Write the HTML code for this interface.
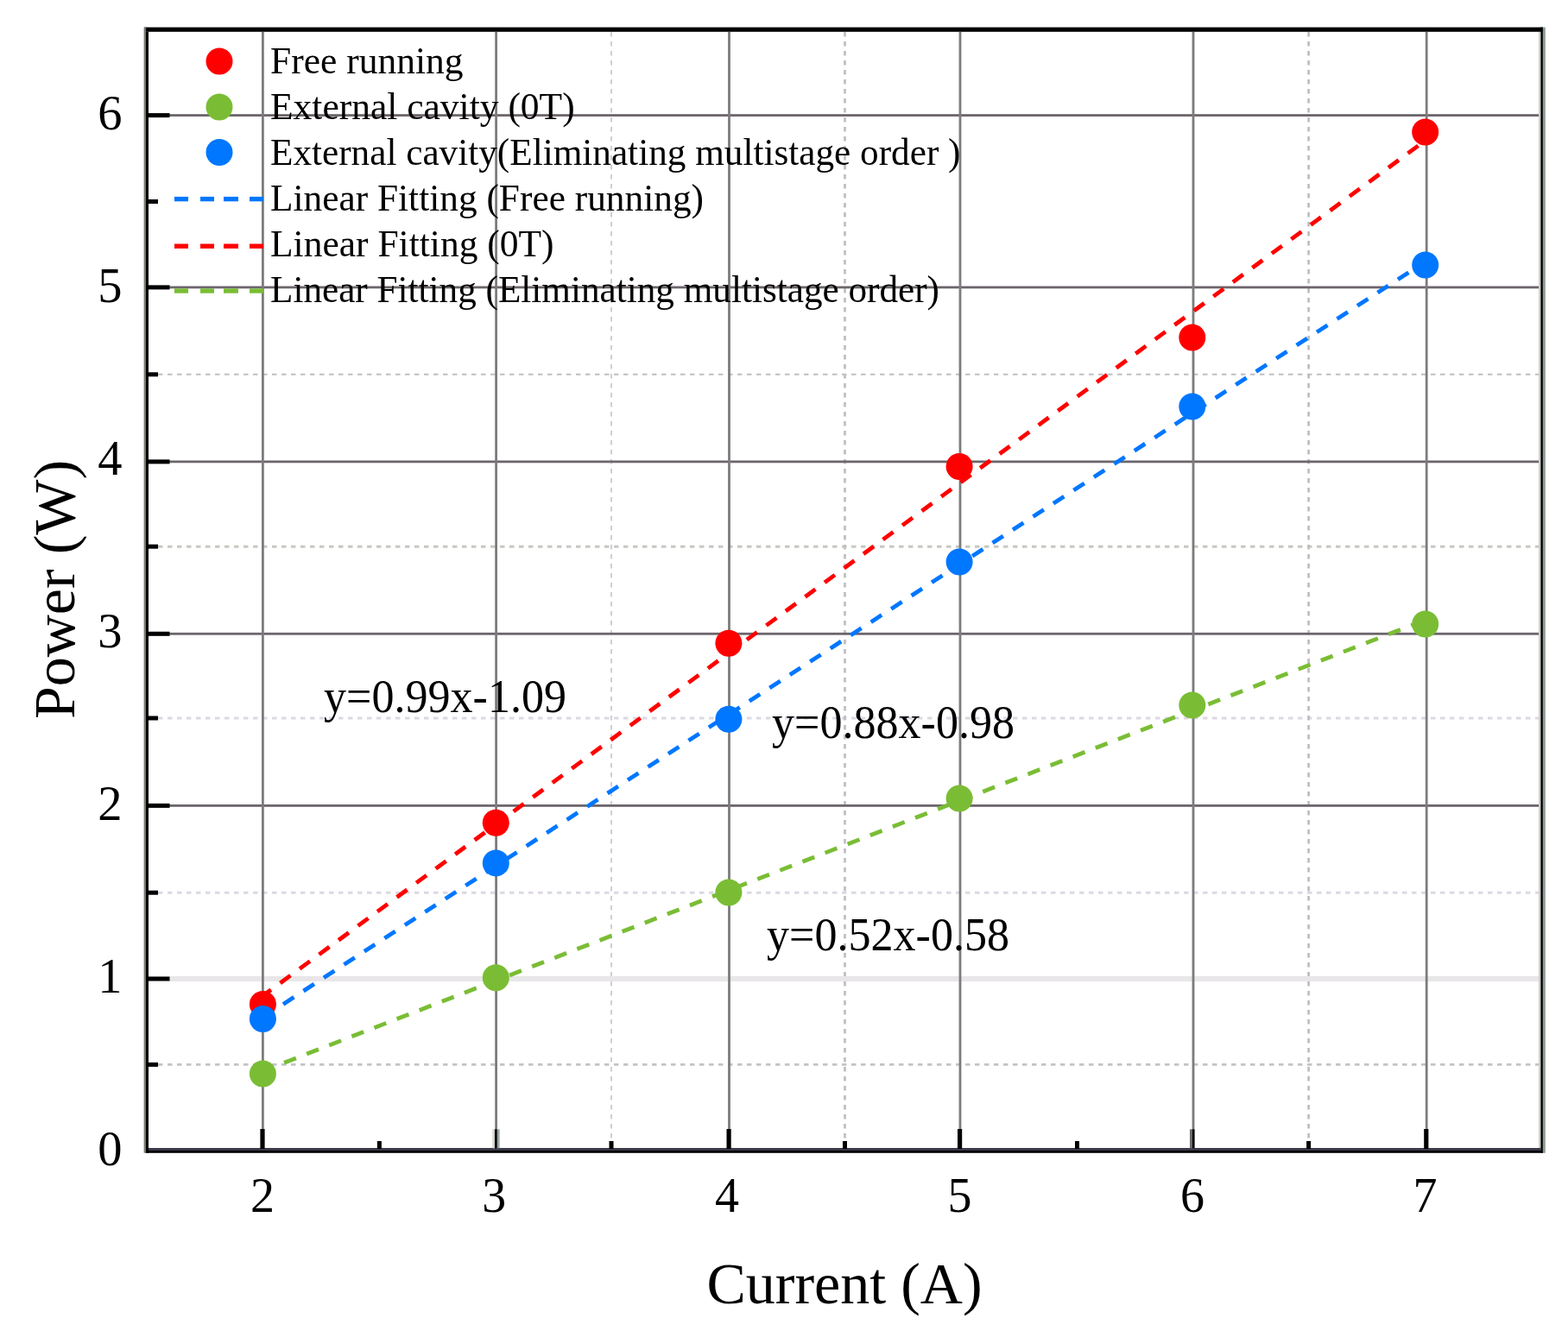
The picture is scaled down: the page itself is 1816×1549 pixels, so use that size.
<!DOCTYPE html>
<html><head><meta charset="utf-8"><title>Power vs Current</title>
<style>html,body{margin:0;padding:0;background:#fff;}svg{display:block;}</style></head>
<body><svg width="1816" height="1549" viewBox="0 0 1816 1549">
<rect width="1816" height="1549" fill="#fff"/>
<line x1="172" y1="1233.4" x2="1784" y2="1233.4" stroke="#c4c4c4" stroke-width="2.8" stroke-dasharray="5.5 5.5"/>
<line x1="172" y1="1034.2" x2="1784" y2="1034.2" stroke="#ddd8e2" stroke-width="3.0" stroke-dasharray="5.5 5.5"/>
<line x1="172" y1="832.0" x2="1784" y2="832.0" stroke="#ddd8e2" stroke-width="3.0" stroke-dasharray="5.5 5.5"/>
<line x1="172" y1="633.2" x2="1784" y2="633.2" stroke="#c8c8c2" stroke-width="2.9" stroke-dasharray="5.5 5.5"/>
<line x1="172" y1="433.8" x2="1784" y2="433.8" stroke="#bfbfbf" stroke-width="2.1" stroke-dasharray="5.5 5.5"/>
<line x1="708.0" y1="37" x2="708.0" y2="1330" stroke="#d0d0d0" stroke-width="2.1" stroke-dasharray="5.6 5.4"/>
<line x1="978.5" y1="37" x2="978.5" y2="1330" stroke="#c0c0c0" stroke-width="2.8" stroke-dasharray="5.6 5.4"/>
<line x1="1515.6" y1="37" x2="1515.6" y2="1330" stroke="#bebebe" stroke-width="2.7" stroke-dasharray="5.6 5.4"/>
<rect x="172" y="932.0" width="1612" height="2.8" fill="#6c666c"/>
<rect x="172" y="732.9" width="1612" height="2.8" fill="#6c666c"/>
<rect x="172" y="533.5" width="1612" height="2.8" fill="#6c666c"/>
<rect x="172" y="331.5" width="1612" height="2.8" fill="#6c666c"/>
<rect x="172" y="132.2" width="1612" height="2.8" fill="#6c666c"/>
<rect x="172" y="1131.0" width="1612" height="6" fill="#e8e6e8"/>
<rect x="303.0" y="37" width="2.8" height="1293" fill="#7c7c7c"/>
<rect x="573.2" y="37" width="2.8" height="1293" fill="#7c7c7c"/>
<rect x="843.1" y="37" width="2.8" height="1293" fill="#7c7c7c"/>
<rect x="1110.6" y="37" width="2.8" height="1293" fill="#7c7c7c"/>
<rect x="1380.6" y="37" width="2.8" height="1293" fill="#7c7c7c"/>
<rect x="1650.8" y="37" width="2.8" height="1293" fill="#7c7c7c"/>
<line x1="304.38" y1="1153.78" x2="1652.18" y2="161.75" stroke="#ff0000" stroke-width="4.8" stroke-dasharray="14.8 13.16" stroke-dashoffset="2.96"/>
<line x1="304.38" y1="1178.77" x2="1652.18" y2="302.13" stroke="#0077ff" stroke-width="4.8" stroke-dasharray="14.8 13.20" stroke-dashoffset="27.8"/>
<line x1="304.38" y1="1240.83" x2="1652.18" y2="717.77" stroke="#7abd35" stroke-width="4.8" stroke-dasharray="14.8 13.20" stroke-dashoffset="1.5"/>
<circle cx="304.4" cy="1163.5" r="15.5" fill="#ff0000"/>
<circle cx="574.3" cy="953.3" r="15.5" fill="#ff0000"/>
<circle cx="843.9" cy="745.3" r="15.5" fill="#ff0000"/>
<circle cx="1111.1" cy="540.5" r="15.5" fill="#ff0000"/>
<circle cx="1380.8" cy="391.0" r="15.5" fill="#ff0000"/>
<circle cx="1650.7" cy="153.0" r="15.5" fill="#ff0000"/>
<circle cx="304.4" cy="1244.0" r="15.5" fill="#7abd35"/>
<circle cx="574.3" cy="1132.8" r="15.5" fill="#7abd35"/>
<circle cx="843.9" cy="1034.0" r="15.5" fill="#7abd35"/>
<circle cx="1111.1" cy="925.0" r="15.5" fill="#7abd35"/>
<circle cx="1380.8" cy="817.0" r="15.5" fill="#7abd35"/>
<circle cx="1650.7" cy="723.0" r="15.5" fill="#7abd35"/>
<circle cx="304.4" cy="1180.5" r="15.5" fill="#0077ff"/>
<circle cx="574.3" cy="999.9" r="15.5" fill="#0077ff"/>
<circle cx="843.9" cy="833.3" r="15.5" fill="#0077ff"/>
<circle cx="1111.1" cy="651.0" r="15.5" fill="#0077ff"/>
<circle cx="1380.8" cy="471.0" r="15.5" fill="#0077ff"/>
<circle cx="1650.7" cy="307.0" r="15.5" fill="#0077ff"/>
<rect x="1782" y="37" width="2.4" height="1293" fill="#d2d0cc"/>
<rect x="167" y="31.6" width="1620" height="5.2" fill="#000"/>
<rect x="172" y="1330" width="1612.4" height="3" fill="#3a3a48"/>
<rect x="169" y="1333" width="1618" height="2.8" fill="#000"/>
<rect x="1784.4" y="31.6" width="2.5" height="1304.2" fill="#000"/>
<rect x="1786.9" y="31.6" width="2.9" height="1304.2" fill="#8c9a92"/>
<rect x="166.6" y="31.6" width="2.5" height="1304.2" fill="#7a7a72"/>
<rect x="169" y="36.8" width="3" height="1299" fill="#000"/>
<rect x="172" y="1131.5" width="24.5" height="5" fill="#000"/>
<rect x="172" y="930.9" width="24.5" height="5" fill="#000"/>
<rect x="172" y="731.8" width="24.5" height="5" fill="#000"/>
<rect x="172" y="532.4" width="24.5" height="5" fill="#000"/>
<rect x="172" y="330.4" width="24.5" height="5" fill="#000"/>
<rect x="172" y="131.1" width="24.5" height="5" fill="#000"/>
<rect x="172" y="1230.9" width="11" height="5" fill="#000"/>
<rect x="172" y="1031.7" width="11" height="5" fill="#000"/>
<rect x="172" y="829.5" width="11" height="5" fill="#000"/>
<rect x="172" y="630.7" width="11" height="5" fill="#000"/>
<rect x="172" y="431.3" width="11" height="5" fill="#000"/>
<rect x="172" y="231.0" width="11" height="5" fill="#000"/>
<rect x="301.4" y="1308" width="5.2" height="23" fill="#000"/>
<rect x="841.5" y="1308" width="5.2" height="23" fill="#000"/>
<rect x="1109.0" y="1308" width="5.2" height="23" fill="#000"/>
<rect x="1649.2" y="1308" width="5.2" height="23" fill="#000"/>
<rect x="570.3" y="1308.3" width="2.7" height="22" fill="#d4d4d0"/>
<rect x="573" y="1308.3" width="2.8" height="22" fill="#000"/>
<rect x="575.8" y="1308.3" width="2.8" height="22" fill="#98a4a4"/>
<rect x="1378" y="1308.3" width="2.9" height="22" fill="#6e6a6e"/>
<rect x="1380.9" y="1308.3" width="2.6" height="22" fill="#000"/>
<rect x="436.9" y="1322" width="5" height="9" fill="#000"/>
<rect x="705.5" y="1322" width="5" height="9" fill="#000"/>
<rect x="976.0" y="1322" width="5" height="9" fill="#000"/>
<rect x="1245.0" y="1322" width="5" height="9" fill="#000"/>
<rect x="1513.1" y="1322" width="5" height="9" fill="#000"/>
<text x="141.5" y="1349.5" font-family="Liberation Serif, Times New Roman, serif" font-size="56.5" text-anchor="end">0</text>
<text x="141.5" y="1149.5" font-family="Liberation Serif, Times New Roman, serif" font-size="56.5" text-anchor="end">1</text>
<text x="141.5" y="949.5" font-family="Liberation Serif, Times New Roman, serif" font-size="56.5" text-anchor="end">2</text>
<text x="141.5" y="749.5" font-family="Liberation Serif, Times New Roman, serif" font-size="56.5" text-anchor="end">3</text>
<text x="141.5" y="549.5" font-family="Liberation Serif, Times New Roman, serif" font-size="56.5" text-anchor="end">4</text>
<text x="141.5" y="349.5" font-family="Liberation Serif, Times New Roman, serif" font-size="56.5" text-anchor="end">5</text>
<text x="141.5" y="149.5" font-family="Liberation Serif, Times New Roman, serif" font-size="56.5" text-anchor="end">6</text>
<text x="303.9" y="1404" font-family="Liberation Serif, Times New Roman, serif" font-size="56" text-anchor="middle">2</text>
<text x="572.3" y="1404" font-family="Liberation Serif, Times New Roman, serif" font-size="56" text-anchor="middle">3</text>
<text x="841.9" y="1404" font-family="Liberation Serif, Times New Roman, serif" font-size="56" text-anchor="middle">4</text>
<text x="1111.5" y="1404" font-family="Liberation Serif, Times New Roman, serif" font-size="56" text-anchor="middle">5</text>
<text x="1381.0" y="1404" font-family="Liberation Serif, Times New Roman, serif" font-size="56" text-anchor="middle">6</text>
<text x="1650.6" y="1404" font-family="Liberation Serif, Times New Roman, serif" font-size="56" text-anchor="middle">7</text>
<text x="978" y="1510" font-family="Liberation Serif, Times New Roman, serif" font-size="68" text-anchor="middle">Current (A)</text>
<text transform="translate(86,683) rotate(-90)" x="0" y="0" font-family="Liberation Serif, Times New Roman, serif" font-size="68" text-anchor="middle">Power (W)</text>
<text x="313" y="85" font-family="Liberation Serif, Times New Roman, serif" font-size="43.5">Free running</text>
<text x="313" y="138" font-family="Liberation Serif, Times New Roman, serif" font-size="43.5">External cavity (0T)</text>
<text x="313" y="191" font-family="Liberation Serif, Times New Roman, serif" font-size="43.5" textLength="799.5" lengthAdjust="spacingAndGlyphs">External cavity(Eliminating multistage order )</text>
<text x="313" y="244" font-family="Liberation Serif, Times New Roman, serif" font-size="43.5" textLength="502" lengthAdjust="spacingAndGlyphs">Linear Fitting (Free running)</text>
<text x="313" y="297" font-family="Liberation Serif, Times New Roman, serif" font-size="43.5">Linear Fitting (0T)</text>
<text x="313" y="350" font-family="Liberation Serif, Times New Roman, serif" font-size="43.5" textLength="775" lengthAdjust="spacingAndGlyphs">Linear Fitting (Eliminating multistage order)</text>
<circle cx="254" cy="71" r="15.5" fill="#ff0000"/>
<circle cx="254" cy="124" r="15.5" fill="#7abd35"/>
<circle cx="254" cy="176.5" r="15.5" fill="#0077ff"/>
<rect x="202" y="227.9" width="16" height="5.4" fill="#0077ff"/>
<rect x="232" y="227.9" width="16" height="5.4" fill="#0077ff"/>
<rect x="259" y="227.9" width="17" height="5.4" fill="#0077ff"/>
<rect x="289" y="227.9" width="16" height="5.4" fill="#0077ff"/>
<rect x="202" y="282.5" width="16" height="5.4" fill="#ff0000"/>
<rect x="232" y="282.5" width="16" height="5.4" fill="#ff0000"/>
<rect x="259" y="282.5" width="17" height="5.4" fill="#ff0000"/>
<rect x="289" y="282.5" width="16" height="5.4" fill="#ff0000"/>
<rect x="202" y="334.3" width="16" height="5.4" fill="#7abd35"/>
<rect x="232" y="334.3" width="16" height="5.4" fill="#7abd35"/>
<rect x="259" y="334.3" width="17" height="5.4" fill="#7abd35"/>
<rect x="289" y="334.3" width="16" height="5.4" fill="#7abd35"/>
<text x="375" y="825" font-family="Liberation Serif, Times New Roman, serif" font-size="55" textLength="281" lengthAdjust="spacingAndGlyphs">y=0.99x-1.09</text>
<text x="894" y="855" font-family="Liberation Serif, Times New Roman, serif" font-size="55" textLength="281" lengthAdjust="spacingAndGlyphs">y=0.88x-0.98</text>
<text x="888" y="1101" font-family="Liberation Serif, Times New Roman, serif" font-size="55" textLength="281" lengthAdjust="spacingAndGlyphs">y=0.52x-0.58</text>
</svg></body></html>
